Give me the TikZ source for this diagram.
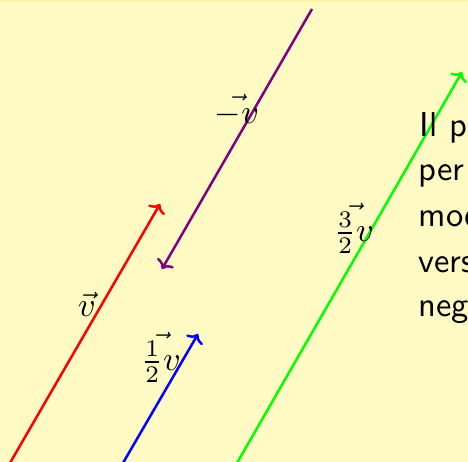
\documentclass[tikz,border=0pt]{standalone}
\usetikzlibrary{arrows.meta}
\definecolor{bgyel}{RGB}{255,249,196}
\definecolor{topyel}{RGB}{255,246,170}
\definecolor{vpurple}{RGB}{128,0,128}
\definecolor{vgreen}{RGB}{0,255,0}
\tikzset{
  vecline/.style={line width=2.5pt, -{To[length=8pt,width=19pt,line width=2.5pt]}},
  lbl/.style={inner sep=0pt, scale=3.4, transform shape},
  txt/.style={anchor=base west, inner sep=0pt, scale=3.45, transform shape, font=\sffamily}
}
\begin{document}
\begin{tikzpicture}[x=1pt,y=-1pt]
\fill[bgyel] (0,0) rectangle (468,462);
\fill[topyel] (0,0) rectangle (468,2);
\useasboundingbox (0,0) rectangle (468,462);
% coordinates
\coordinate (r0) at (10,463);
\coordinate (r1) at (160,204);
\coordinate (p0) at (312,9);
\coordinate (p1) at (162,269);
\coordinate (b0) at (123,463);
\coordinate (b1) at (198,334);
\coordinate (g0) at (237,463);
\coordinate (g1) at (462,72);
\draw[vecline, red] (r0) -- (r1);
\draw[vecline, vpurple] (p0) -- (p1);
\draw[vecline, blue] (b0) -- (b1);
\draw[vecline, vgreen] (g0) -- (g1);
% labels
\node[lbl] (lv) at (87,304) {$\vec{v}$};
\node[lbl] (lmv) at (237,110) {$\vec{-v}$};
\node[lbl] (lh) at (161,357) {$\vec{\frac{1}{2}v}$};
\node[lbl] (lt) at (354,228) {$\vec{\frac{3}{2}v}$};
% text
\node[txt] (t1) at (419,137) {Il p};
\node[txt] (t2) at (418,181) {per};
\node[txt] (t3) at (418,227) {mod};
\node[txt] (t4) at (418,272) {vers};
\node[txt] (t5) at (418,316) {neg};
\end{tikzpicture}
\end{document}
